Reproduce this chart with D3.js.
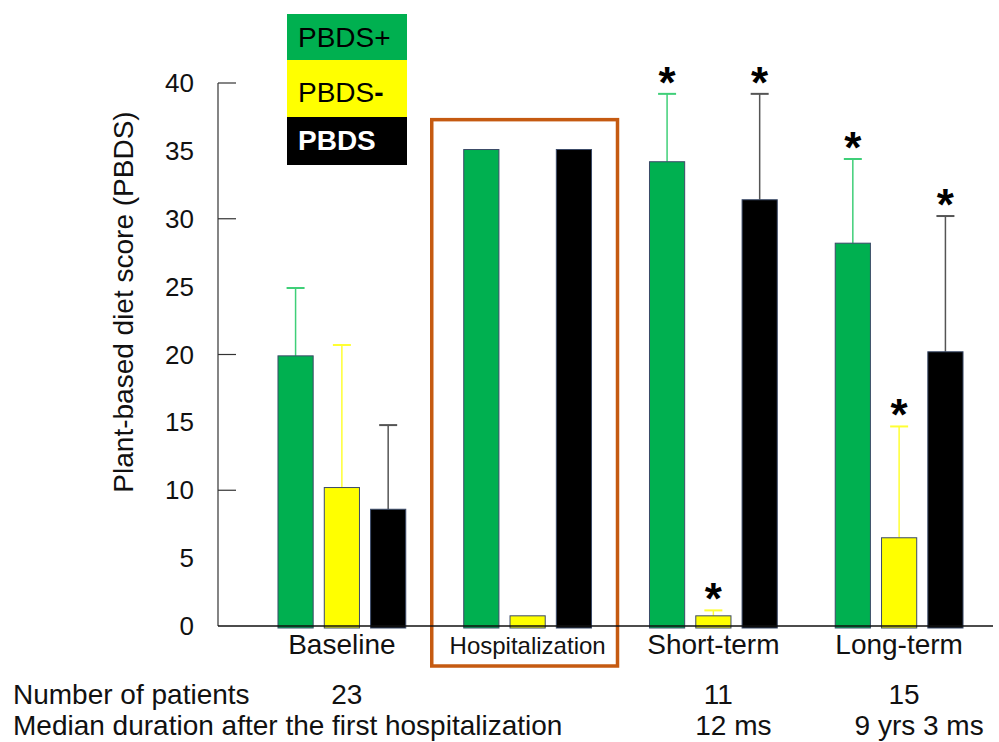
<!DOCTYPE html>
<html>
<head>
<meta charset="utf-8">
<script src="https://cdn.jsdelivr.net/npm/d3@7"></script>
<style>
  body { margin: 0; background: #fff; }
  svg { display: block; font-family: "Liberation Sans", Arial, sans-serif; }
</style>
</head>
<body>
<div id="chart"></div>
<script>
// Data
var groups = ["Baseline", "Hospitalization", "Short-term", "Long-term"];
var series = ["PBDS+", "PBDS-", "PBDS"];

var pbdsPlus = [19.9, 35.1, 34.2, 28.2];
var pbdsPlusSD = [5.0, null, 5.0, 6.2];
var pbdsMinus = [10.2, 0.75, 0.75, 6.5];
var pbdsMinusSD = [10.5, null, 0.4, 8.2];
var pbdsTotal = [8.6, 35.1, 31.4, 20.2];
var pbdsTotalSD = [6.2, null, 7.8, 10.0];

// significance stars (per group)
var starPlus = [false, false, true, true];
var starMinus = [false, false, true, true];
var starTotal = [false, false, true, true];

var yTickLabels = [0, 5, 10, 15, 20, 25, 30, 35, 40];
var yTickMarks = [10, 20, 30, 40];

var patients = ["23", "", "11", "15"];
var durations = ["", "", "12 ms", "9 yrs 3 ms"];

var svgWidth = 999;
var svgHeight = 742;

var fills = { "PBDS+": "#00b050", "PBDS-": "#ffff00", "PBDS": "#000000" };
var errColors = { "PBDS+": "#3fcf78", "PBDS-": "#ffff33", "PBDS": "#555555" };

var svg = d3.select("#chart")
  .append("svg")
  .attr("width", svgWidth)
  .attr("height", svgHeight);

// Scales
var yScale = d3.scaleLinear()
  .domain([0, 40])
  .range([626, 83]);

var xGroup = d3.scaleBand()
  .domain(groups)
  .range([249, 992]);

var xInner = d3.scaleBand()
  .domain(series)
  .range([-75, 75])
  .padding(0.24);

var axisX = 218;

// Build rows for the bars
var rows = [];
groups.forEach(function(g, i) {
  rows.push({ group: g, key: "PBDS+", value: pbdsPlus[i], sd: pbdsPlusSD[i], star: starPlus[i] });
  rows.push({ group: g, key: "PBDS-", value: pbdsMinus[i], sd: pbdsMinusSD[i], star: starMinus[i] });
  rows.push({ group: g, key: "PBDS", value: pbdsTotal[i], sd: pbdsTotalSD[i], star: starTotal[i] });
});

function barCenter(d) {
  return xGroup(d.group) + xGroup.bandwidth() / 2 + xInner(d.key) + xInner.bandwidth() / 2;
}

// Hospitalization frame
var hx = xGroup("Hospitalization");
svg.append("rect")
  .attr("x", hx - 3)
  .attr("y", yScale(37.3))
  .attr("width", xGroup.bandwidth())
  .attr("height", yScale(0) + 40 - yScale(37.3))
  .attr("fill", "none")
  .attr("stroke", "#c55a11")
  .attr("stroke-width", 3.5);

// Error bars
var errRows = rows.filter(function(d) { return d.sd != null; });

svg.selectAll(".err-line")
  .data(errRows)
  .enter()
  .append("line")
  .attr("x1", barCenter)
  .attr("x2", barCenter)
  .attr("y1", function(d) { return yScale(d.value); })
  .attr("y2", function(d) { return yScale(d.value + d.sd); })
  .attr("stroke", function(d) { return errColors[d.key]; })
  .attr("stroke-width", 1.5);

svg.selectAll(".err-cap")
  .data(errRows)
  .enter()
  .append("line")
  .attr("x1", function(d) { return barCenter(d) - 9; })
  .attr("x2", function(d) { return barCenter(d) + 9; })
  .attr("y1", function(d) { return yScale(d.value + d.sd); })
  .attr("y2", function(d) { return yScale(d.value + d.sd); })
  .attr("stroke", function(d) { return errColors[d.key]; })
  .attr("stroke-width", 2);

// Bars
svg.selectAll(".bar")
  .data(rows)
  .enter()
  .append("rect")
  .attr("class", "bar")
  .attr("x", function(d) { return barCenter(d) - xInner.bandwidth() / 2; })
  .attr("y", function(d) { return yScale(d.value); })
  .attr("width", xInner.bandwidth())
  .attr("height", function(d) { return yScale(0) - yScale(d.value) + 2; })
  .attr("fill", function(d) { return fills[d.key]; })
  .attr("stroke", "#3b4a68")
  .attr("stroke-width", 1);

// Stars
svg.selectAll(".star")
  .data(rows.filter(function(d) { return d.star; }))
  .enter()
  .append("text")
  .attr("x", barCenter)
  .attr("y", function(d) { return yScale(d.value + (d.sd || 0)) + 4; })
  .attr("text-anchor", "middle")
  .attr("font-size", 44)
  .attr("font-weight", "bold")
  .text("*");

// Axes (drawn by hand to match the figure: inward ticks every 10, labels every 5)
svg.append("line")
  .attr("x1", axisX).attr("x2", axisX)
  .attr("y1", yScale(40)).attr("y2", yScale(0))
  .attr("stroke", "#333").attr("stroke-width", 1.2);

svg.append("line")
  .attr("x1", axisX).attr("x2", 993)
  .attr("y1", yScale(0)).attr("y2", yScale(0))
  .attr("stroke", "#111").attr("stroke-width", 1.5);

svg.selectAll(".ytick")
  .data(yTickMarks)
  .enter()
  .append("line")
  .attr("x1", axisX).attr("x2", axisX + 18)
  .attr("y1", function(d) { return yScale(d); })
  .attr("y2", function(d) { return yScale(d); })
  .attr("stroke", "#333").attr("stroke-width", 1.2);

svg.selectAll(".ylabel")
  .data(yTickLabels)
  .enter()
  .append("text")
  .attr("x", axisX - 24)
  .attr("y", function(d) { return yScale(d); })
  .attr("dy", "0.35em")
  .attr("text-anchor", "end")
  .attr("font-size", 26)
  .attr("fill", "#111")
  .text(function(d) { return d; });

svg.append("text")
  .attr("transform", "translate(133, 302) rotate(-90)")
  .attr("text-anchor", "middle")
  .attr("font-size", 28)
  .attr("fill", "#111")
  .text("Plant-based diet score (PBDS)");

// Category labels
svg.selectAll(".cat")
  .data(groups)
  .enter()
  .append("text")
  .attr("x", function(d) { return xGroup(d) + xGroup.bandwidth() / 2; })
  .attr("y", 654)
  .attr("text-anchor", "middle")
  .attr("font-size", function(d) { return d === "Hospitalization" ? 24 : 28; })
  .attr("fill", "#111")
  .text(function(d) { return d; });

// Legend
var legendTop = [14, 60, 117];
var legendH = [48, 57, 48];
var legendBase = [47, 102, 150];
series.forEach(function(s, i) {
  svg.append("rect")
    .attr("x", 287)
    .attr("y", legendTop[i])
    .attr("width", 120)
    .attr("height", legendH[i])
    .attr("fill", fills[s]);
  var t = svg.append("text")
    .attr("x", 298)
    .attr("y", legendBase[i])
    .attr("font-size", 28)
    .attr("fill", s === "PBDS" ? "#fff" : "#000")
    .attr("font-weight", s === "PBDS" ? "bold" : "normal");
  if (s === "PBDS-") {
    t.append("tspan").text("PBDS");
    t.append("tspan").attr("font-weight", "bold").text("-");
  } else {
    t.text(s);
  }
});

// Table under the chart
svg.append("text")
  .attr("x", 13).attr("y", 704)
  .attr("font-size", 28).attr("fill", "#111")
  .text("Number of patients");

svg.append("text")
  .attr("x", 13).attr("y", 735)
  .attr("font-size", 28).attr("fill", "#111")
  .text("Median duration after the first hospitalization");

svg.selectAll(".npat")
  .data(groups)
  .enter()
  .append("text")
  .attr("x", function(d) { return xGroup(d) + xGroup.bandwidth() / 2 + 5; })
  .attr("y", 704)
  .attr("text-anchor", "middle")
  .attr("font-size", 28).attr("fill", "#111")
  .text(function(d, i) { return patients[i]; });

svg.selectAll(".dur")
  .data(groups)
  .enter()
  .append("text")
  .attr("x", function(d) { return xGroup(d) + xGroup.bandwidth() / 2 + 20; })
  .attr("y", 735)
  .attr("text-anchor", "middle")
  .attr("font-size", 28).attr("fill", "#111")
  .text(function(d, i) { return durations[i]; });
</script>
</body>
</html>
